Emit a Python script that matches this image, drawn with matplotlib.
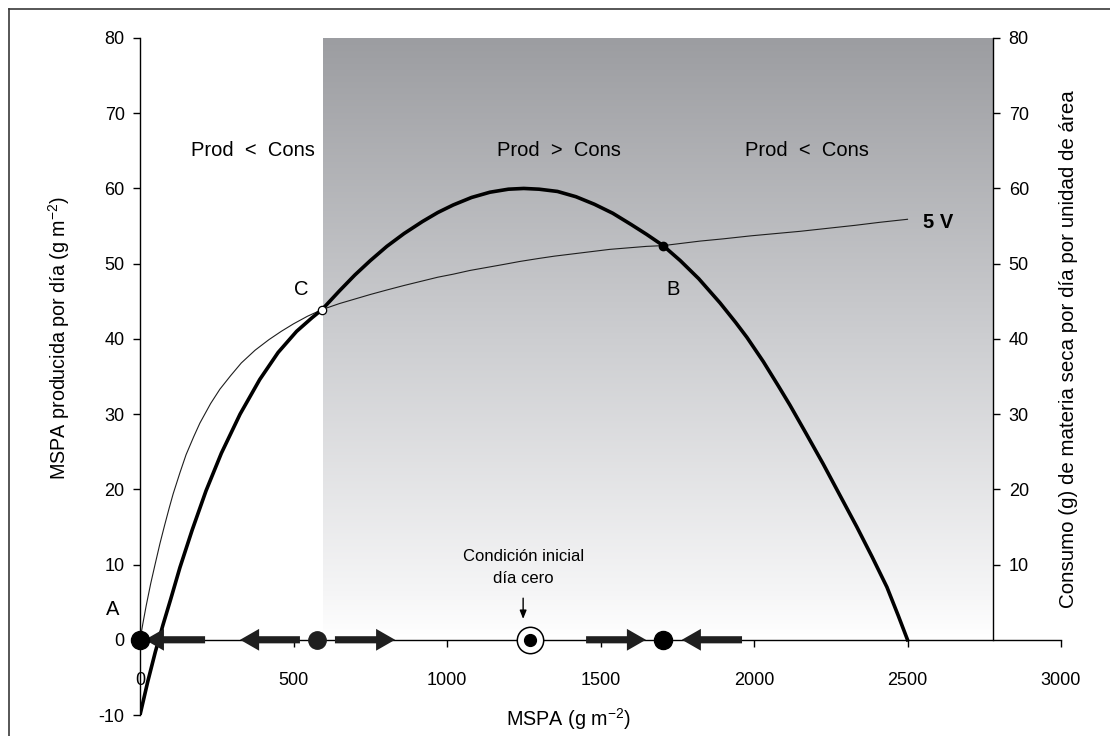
import numpy as np
import matplotlib
matplotlib.use("Agg")
import matplotlib.pyplot as plt
from matplotlib.colors import LinearSegmentedColormap
from matplotlib.lines import Line2D

plt.rcParams['font.family'] = ['Liberation Sans', 'DejaVu Sans']
plt.rcParams['mathtext.fontset'] = 'custom'
plt.rcParams['mathtext.rm'] = 'Liberation Sans'
plt.rcParams['mathtext.default'] = 'regular'
plt.rcParams['axes.unicode_minus'] = False

# Production curve (MSPA produced per day)
prod_x = [0, 25, 50, 75, 100, 130, 170, 215, 265, 326, 390, 450, 510, 560, 593,
          650, 700, 750, 804, 860, 920, 970, 1020, 1080, 1140, 1200, 1250, 1300,
          1360, 1420, 1480, 1540, 1600, 1650, 1704, 1760, 1820, 1889, 1940, 1977,
          2030, 2080, 2117, 2170, 2225, 2280, 2335, 2385, 2433, 2470, 2500]
prod_y = [-10, -5.6, -1.6, 2.0, 5.4, 9.6, 14.6, 19.8, 24.8, 30.0, 34.6, 38.2, 41.0,
          42.8, 43.9, 46.4, 48.5, 50.4, 52.3, 54.0, 55.6, 56.8, 57.8, 58.8, 59.5,
          59.9, 60.0, 59.9, 59.6, 58.9, 57.9, 56.7, 55.2, 53.9, 52.4, 50.4, 48.0,
          44.8, 42.2, 40.2, 37.0, 33.7, 31.2, 27.4, 23.4, 19.2, 15.0, 11.0, 7.0,
          3.2, 0]

# Consumption curve (5 V)
cons_x = [0, 10, 20, 35, 49, 65, 80, 95, 108, 130, 150, 175, 195, 230, 260, 295,
          330, 375, 420, 460, 500, 545, 593, 650, 700, 750, 804, 860, 920, 970,
          1020, 1075, 1130, 1185, 1238, 1300, 1350, 1410, 1470, 1530, 1590, 1650,
          1704, 1764, 1824, 1900, 1990, 2070, 2150, 2240, 2330, 2410, 2500]
cons_y = [0, 2.3, 4.5, 7.5, 10, 12.8, 15.2, 17.5, 19.4, 22.2, 24.6, 27.0, 28.8,
          31.4, 33.3, 35.1, 36.8, 38.5, 39.9, 41.0, 42.0, 43.0, 43.9, 44.7, 45.3,
          45.9, 46.5, 47.1, 47.7, 48.2, 48.6, 49.1, 49.5, 49.9, 50.3, 50.7, 51.0,
          51.3, 51.6, 51.9, 52.1, 52.3, 52.4, 52.7, 53.0, 53.3, 53.7, 54.0, 54.3,
          54.7, 55.1, 55.5, 55.9]

# Equilibrium points on the MSPA axis
eq_stable_x = [0, 1704]
eq_unstable_x = [577]
start_x = 1270

# Direction arrows on the MSPA axis (tail -> head)
arrow_tail = [212, 521, 635, 1453, 1961]
arrow_head = [16, 326, 831, 1648, 1765]

# Intersections of the two curves
point_c = (593, 43.9)
point_b = (1704, 52.4)

# Shaded region where production exceeds consumption
shade_x = (596, 2780)
shade_y = (0, 80)

xticks = [0, 500, 1000, 1500, 2000, 2500, 3000]
yticks_left = [-10, 0, 10, 20, 30, 40, 50, 60, 70, 80]
yticks_right = [10, 20, 30, 40, 50, 60, 70, 80]
right_axis_x = 2780

W, H = 1110, 736
fig = plt.figure(figsize=(W / 100, H / 100), dpi=100)

# outer frame
fig.add_artist(Line2D([9 / W, 1.0], [1 - 9 / H, 1 - 9 / H], transform=fig.transFigure,
                      color='#3a3a3a', lw=1.2))
fig.add_artist(Line2D([9 / W, 9 / W], [0, 1 - 9 / H], transform=fig.transFigure,
                      color='#3a3a3a', lw=1.2))

ax = fig.add_axes([140 / W, (H - 715) / H, (1061 - 140) / W, (715 - 38) / H])
ax.patch.set_alpha(0)

# vertical gradient fill
cmap = LinearSegmentedColormap.from_list(
    'shade', [(0.0, '#ffffff'), (0.08, '#f5f5f6'), (0.5, '#cdced1'), (1.0, '#9c9da1')])
grad = np.linspace(0, 1, 256).reshape(-1, 1)
ax.imshow(grad, extent=[shade_x[0], shade_x[1], shade_y[0], shade_y[1]], origin='lower',
          aspect='auto', cmap=cmap, zorder=0, interpolation='bicubic')
ax.set_xlim(0, 3000)
ax.set_ylim(-10, 80)

ax.plot(cons_x, cons_y, color='#1e1e1e', lw=0.8, zorder=3)
ax.plot(prod_x, prod_y, color='black', lw=2.6, zorder=4, solid_joinstyle='round')

ax.plot(*point_c, 'o', ms=6, mfc='white', mec='black', mew=0.9, zorder=6)
ax.plot(*point_b, 'o', ms=6, mfc='black', mec='black', zorder=6)

for t, h in zip(arrow_tail, arrow_head):
    ax.arrow(t, 0, h - t, 0, width=0.95, head_width=2.9, head_length=62,
             length_includes_head=True, color='#1f1f1f', lw=0, zorder=5)

ax.plot(eq_stable_x, [0] * len(eq_stable_x), 'o', ms=13, color='black', zorder=7, clip_on=False)
ax.plot(eq_unstable_x, [0] * len(eq_unstable_x), 'o', ms=12.5, color='#1f1f1f', zorder=7)
ax.plot([start_x], [0], 'o', ms=19, mfc='white', mec='black', mew=1.1, zorder=7)
ax.plot([start_x], [0], 'o', ms=8.5, color='black', zorder=8)

ax.annotate('', xy=(1248, 2.4), xytext=(1248, 5.9),
            arrowprops=dict(arrowstyle='-|>,head_length=0.5,head_width=0.2', lw=1, color='black'))
ax.text(1250, 9.6, 'Condición inicial\ndía cero', ha='center', va='center', fontsize=12,
        linespacing=1.55)

# region labels
ax.text(368, 65, 'Prod  <  Cons', ha='center', va='center', fontsize=14.5)
ax.text(1365, 65, 'Prod  >  Cons', ha='center', va='center', fontsize=14.5)
ax.text(2173, 65, 'Prod  <  Cons', ha='center', va='center', fontsize=14.5)

ax.text(524, 46.5, 'C', ha='center', va='center', fontsize=14.5)
ax.text(1736, 46.5, 'B', ha='center', va='center', fontsize=14.5)
ax.text(-88, 4.0, 'A', ha='center', va='center', fontsize=14.5)
ax.text(2550, 55.5, '5 V', ha='left', va='center', fontsize=14.5, fontweight='bold')

# axes styling
for s in ('top', 'right'):
    ax.spines[s].set_visible(False)
ax.spines['bottom'].set_position(('data', 0))
ax.spines['bottom'].set_bounds(0, 3000)
ax.spines['left'].set_bounds(-10, 80)
for s in ('bottom', 'left'):
    ax.spines[s].set_linewidth(1.0)
    ax.spines[s].set_zorder(2)

ax.set_xticks(xticks)
ax.set_yticks(yticks_left)
ax.tick_params(axis='x', direction='out', length=5, width=1, pad=18, labelsize=13)
ax.tick_params(axis='y', direction='out', length=5, width=1, pad=6, labelsize=13)

ax.set_xlabel('MSPA (g m$^{-2}$)', fontsize=14.2)
ax.xaxis.set_label_coords(0.4647, 0.0133)
ax.set_ylabel('MSPA producida por día (g m$^{-2}$)', fontsize=14.2)
ax.yaxis.set_label_coords(-0.074, 0.557)

sec = ax.secondary_yaxis(right_axis_x / 3000)
sec.set_yticks(yticks_right)
sec.spines['right'].set_bounds(0, 80)
sec.spines['right'].set_linewidth(1.0)
sec.tick_params(axis='y', direction='out', length=5, width=1, pad=6, labelsize=13)
sec.set_ylabel('Consumo (g) de materia seca por día por unidad de área', fontsize=14.8,
               rotation=90)
sec.yaxis.set_label_coords(0.998, 0.5406, transform=ax.transAxes)

fig.savefig('out.png', dpi=100)
